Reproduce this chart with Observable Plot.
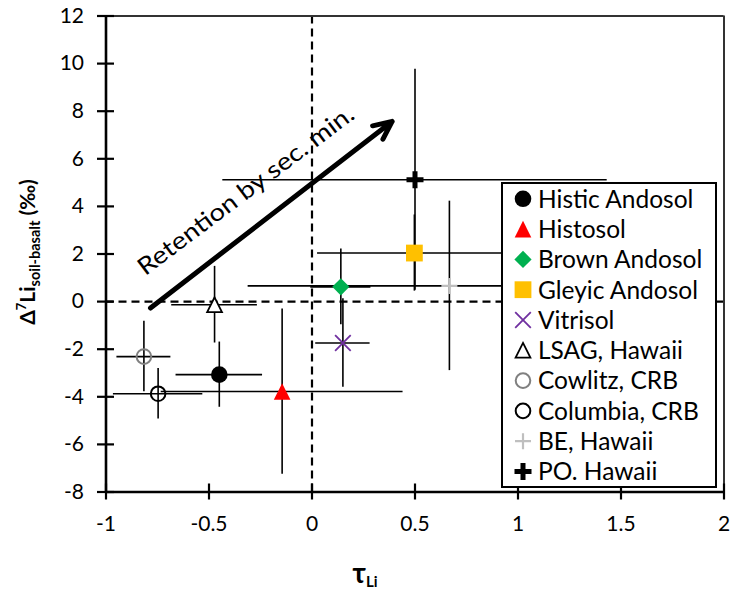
<!DOCTYPE html>
<html><head><meta charset="utf-8">
<script src="https://cdn.jsdelivr.net/npm/d3@7"></script>
<script src="https://cdn.jsdelivr.net/npm/@observablehq/plot@0.6"></script>
<style>body{margin:0;background:#fff} #chart{width:731px;height:590px}</style>
</head><body><div id="chart"></div>
<script>
// ---- data ----
const series = ["Histic Andosol","Histosol","Brown Andosol","Gleyic Andosol","Vitrisol","LSAG, Hawaii","Cowlitz, CRB","Columbia, CRB","BE, Hawaii","PO. Hawaii"];
const tau      = [-0.45, -0.145, 0.14, 0.497, 0.15, -0.473, -0.816, -0.747, 0.667, 0.50];
const delta7Li = [-3.07, -3.78, 0.62, 2.04, -1.74, -0.13, -2.31, -3.87, 0.66, 5.12];
const tauErr   = [0.21, 0.587, 0.146, 0.47, 0.132, 0.208, 0.131, 0.217, 0.977, 0.933];
const deltaErr = [1.37, 3.47, 1.59, 1.6, 1.86, 1.61, 1.48, 1.06, 3.56, 4.64];
const xTicks = [-1, -0.5, 0, 0.5, 1, 1.5, 2];
const yTicks = [-8, -6, -4, -2, 0, 2, 4, 6, 8, 10, 12];
const arrowX = [-0.784, 0.389];
const arrowY = [-0.27, 7.57];
const annotationText = ["Retention by sec. min."];
const annotationX = [-0.809];
const annotationY = [1.06];

// ---- symbols / styles ----
const sym = {
  circle: s => ({draw(c){ c.moveTo(s,0); c.arc(0,0,s,0,2*Math.PI); c.closePath(); }}),
  triangle: s => ({draw(c){ c.moveTo(0,-s); c.lineTo(s,s); c.lineTo(-s,s); c.closePath(); }}),
  diamond: s => ({draw(c){ c.moveTo(0,-s); c.lineTo(s,0); c.lineTo(0,s); c.lineTo(-s,0); c.closePath(); }}),
  square: s => ({draw(c){ c.rect(-s,-s,2*s,2*s); }}),
  times: s => ({draw(c){ c.moveTo(-s,-s); c.lineTo(s,s); c.moveTo(-s,s); c.lineTo(s,-s); }}),
  plus: s => ({draw(c){ c.moveTo(-s,0); c.lineTo(s,0); c.moveTo(0,-s); c.lineTo(0,s); }})
};
const styles = [
  {symbol: sym.circle(8.3), fill: "#000", stroke: "none"},
  {symbol: sym.triangle(8.3), fill: "#FF0000", stroke: "none"},
  {symbol: sym.diamond(8.6), fill: "#00B050", stroke: "none"},
  {symbol: sym.square(8.4), fill: "#FFC000", stroke: "none"},
  {symbol: sym.times(7.8), fill: "none", stroke: "#7030A0", strokeWidth: 1.8},
  {symbol: sym.triangle(7.4), fill: "#fff", stroke: "#000", strokeWidth: 1.8},
  {symbol: sym.circle(7.3), fill: "none", stroke: "#808080", strokeWidth: 2},
  {symbol: sym.circle(7.3), fill: "none", stroke: "#000", strokeWidth: 2},
  {symbol: sym.plus(8), fill: "none", stroke: "#BFBFBF", strokeWidth: 2.2},
  {symbol: sym.plus(8.5), fill: "none", stroke: "#000", strokeWidth: 5}
];

const rows = series.map((s, i) => ({s, x: tau[i], y: delta7Li[i], ex: tauErr[i], ey: deltaErr[i]}));
const FONT = "Lato, 'Open Sans', sans-serif";
const xPx = 206, yPx = 23.79; // px per unit, used only for tick lengths

const plot = Plot.plot({
  width: 731, height: 590,
  marginLeft: 105.5, marginRight: 7.5, marginTop: 15.5, marginBottom: 98.5,
  style: {fontFamily: FONT, fontSize: "21px", background: "#fff", color: "#000", overflow: "visible"},
  x: {domain: [-1, 2]},
  y: {domain: [-8, 12]},
  marks: [
    Plot.ruleX([0], {y1: -8, y2: 12, stroke: "#000", strokeWidth: 2.2, strokeDasharray: "8,5"}),
    Plot.ruleY([0], {x1: -1, x2: 2, stroke: "#000", strokeWidth: 2.2, strokeDasharray: "8,5"}),
    Plot.ruleY(rows, {y: "y", x1: d => d.x - d.ex, x2: d => d.x + d.ex, stroke: "#000", strokeWidth: 1.6}),
    Plot.ruleX(rows, {x: "x", y1: d => d.y - d.ey, y2: d => d.y + d.ey, stroke: "#000", strokeWidth: 1.6}),
    ...rows.map((r, i) => Plot.dot([r], {x: "x", y: "y", r: 5, ...styles[i]})),
    Plot.arrow([0], {x1: arrowX[0], y1: arrowY[0], x2: arrowX[1], y2: arrowY[1], stroke: "#000", strokeWidth: 5, headLength: 6, headAngle: 50}),
    Plot.text(annotationText, {x: annotationX, y: annotationY, text: d => d, rotate: -37, textAnchor: "start", lineAnchor: "bottom", fontSize: 24, fill: "#000"}),
    // frame top/right
    Plot.ruleY([12], {x1: -1, x2: 2, stroke: "#333", strokeWidth: 2}),
    Plot.ruleX([2], {y1: -8, y2: 12, stroke: "#333", strokeWidth: 2}),
    // axis lines
    Plot.ruleX([-1], {y1: -8, y2: 12, stroke: "#000", strokeWidth: 2.6}),
    Plot.ruleY([-8], {x1: -1, x2: 2, stroke: "#000", strokeWidth: 2.6}),
    // crossing ticks
    Plot.ruleY(yTicks, {y: d => d, x1: -1 - 8.5 / xPx, x2: -1 + 8.5 / xPx, stroke: "#000", strokeWidth: 2.2}),
    Plot.ruleX(xTicks, {x: d => d, y1: -8 - 8 / yPx, y2: -8 + 8 / yPx, stroke: "#000", strokeWidth: 2.2}),
    Plot.axisX(xTicks, {tickSize: 0, tickPadding: 24, tickFormat: d => String(d), fontSize: 21, label: null}),
    Plot.axisY(yTicks, {tickSize: 0, tickPadding: 22, tickFormat: d => String(d), fontSize: 21, label: null})
  ]
});
document.getElementById("chart").appendChild(plot);

const svg = d3.select(plot);
// annotation length
svg.selectAll('g[aria-label="text"] text').attr("textLength", 264).attr("lengthAdjust", "spacingAndGlyphs");

// y title
const yt = svg.append("text").attr("transform", "translate(35,252) rotate(-90)")
  .attr("text-anchor", "middle").attr("font-weight", "bold").attr("font-size", 21)
  .attr("font-family", FONT).attr("fill", "#000");
yt.append("tspan").text("Δ");
yt.append("tspan").attr("font-size", 13).attr("dy", -9).text("7");
yt.append("tspan").attr("dy", 9).text("Li");
yt.append("tspan").attr("font-size", 14.5).attr("dy", 5).text("soil-basalt");
yt.append("tspan").attr("dy", -5).text(" (‰)");

// x title
const xt = svg.append("text").attr("x", 365).attr("y", 583)
  .attr("text-anchor", "middle").attr("font-weight", "bold").attr("font-size", 28)
  .attr("font-family", FONT).attr("fill", "#000");
xt.append("tspan").text("τ");
xt.append("tspan").attr("font-size", 15).attr("dy", 4).text("Li");

// legend
const lg = svg.append("g").attr("font-family", FONT).attr("font-size", 24.5).attr("text-anchor", "start");
lg.append("rect").attr("x", 502).attr("y", 183).attr("width", 214).attr("height", 304)
  .attr("fill", "#fff").attr("stroke", "#000").attr("stroke-width", 2);
series.forEach((name, i) => {
  const cy = 198.8 + i * 30.3;
  const st = styles[i];
  lg.append("path").attr("d", d3.symbol(st.symbol, 64)())
    .attr("transform", `translate(523,${cy})`)
    .attr("fill", st.fill).attr("stroke", st.stroke).attr("stroke-width", st.strokeWidth || 0);
  lg.append("text").attr("x", 538).attr("y", cy).attr("dy", "0.36em").attr("text-anchor", "start").attr("fill", "#000").text(name);
});
</script>
</body></html>
